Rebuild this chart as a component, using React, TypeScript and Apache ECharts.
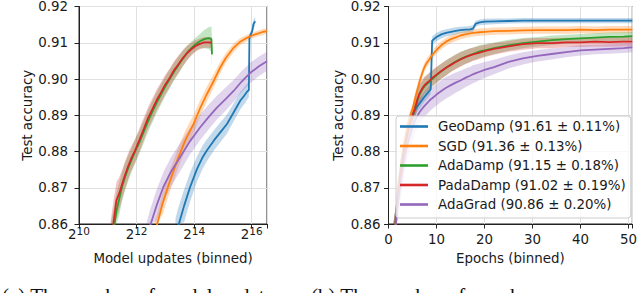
import React, { useEffect, useRef } from 'react';
import * as echarts from 'echarts';

const FONT = 'DejaVu Sans';
const TXT = '#1a1a1a';
const Y_MIN = 0.86;
const Y_MAX = 0.92;

const NAMES = [
  'GeoDamp (91.61 ± 0.11%)',
  'SGD (91.36 ± 0.13%)',
  'AdaDamp (91.15 ± 0.18%)',
  'PadaDamp (91.02 ± 0.19%)',
  'AdaGrad (90.86 ± 0.20%)',
];
const COLORS = ['#1f77b4', '#ff7f0e', '#2ca02c', '#d62728', '#9467bd'];

// ---------- Left panel: log2(model updates) vs accuracy ----------
const geoUpdX = [13.35, 13.45, 13.65, 13.86, 14.1, 14.3, 14.44, 14.7, 14.95, 15.14, 15.35, 15.6, 15.75, 15.85, 15.9, 15.92, 15.97, 16.02, 16.06, 16.12];
const geoUpdY = [0.8565, 0.8595, 0.865, 0.8702, 0.8752, 0.8785, 0.8803, 0.8832, 0.8857, 0.8876, 0.8905, 0.894, 0.8955, 0.8966, 0.8969, 0.9115, 0.9124, 0.9133, 0.9152, 0.9159];
const geoUpdSd = [0.005, 0.005, 0.0045, 0.004, 0.0035, 0.0032, 0.003, 0.0028, 0.0027, 0.0026, 0.0025, 0.0024, 0.0023, 0.0022, 0.002, 0.001, 0.001, 0.001, 0.0012, 0.0012];

const sgdUpdX = [12.6, 12.7, 12.9, 13.1, 13.3, 13.45, 13.7, 13.98, 14.2, 14.44, 14.7, 14.9, 15.1, 15.37, 15.6, 15.8, 15.95, 16.15, 16.35, 16.53];
const sgdUpdY = [0.8565, 0.8595, 0.8655, 0.8705, 0.875, 0.8784, 0.8832, 0.8876, 0.8918, 0.8958, 0.8998, 0.9031, 0.9058, 0.9086, 0.9103, 0.9112, 0.9118, 0.9124, 0.9129, 0.9132];
const sgdUpdSd = [0.003, 0.003, 0.003, 0.003, 0.0029, 0.0028, 0.0027, 0.0025, 0.0023, 0.0021, 0.0019, 0.0016, 0.0014, 0.0012, 0.001, 0.0009, 0.0008, 0.0008, 0.0008, 0.0008];

const dampUpdX = [11.1, 11.2, 11.3, 11.4, 11.5, 11.6, 11.7, 11.8, 11.95, 12.1, 12.25, 12.4, 12.55, 12.7, 12.85, 13.0, 13.15, 13.3, 13.45, 13.6, 13.75, 13.9, 14.05, 14.2, 14.35, 14.5, 14.6, 14.62];
const adaDampUpdY = [0.853, 0.858, 0.8635, 0.867, 0.8705, 0.873, 0.8752, 0.8772, 0.88, 0.8826, 0.8855, 0.8884, 0.891, 0.8935, 0.8958, 0.898, 0.9, 0.902, 0.9038, 0.9055, 0.9072, 0.9085, 0.9096, 0.9104, 0.911, 0.9113, 0.911, 0.9068];
const adaDampUpdSd = [0.006, 0.006, 0.005, 0.0045, 0.004, 0.0038, 0.0036, 0.0034, 0.0033, 0.0032, 0.0031, 0.003, 0.003, 0.0029, 0.0028, 0.0027, 0.0026, 0.0025, 0.0024, 0.0022, 0.002, 0.0018, 0.0018, 0.002, 0.0025, 0.003, 0.0035, 0.004];
const padaDampUpdY = [0.855, 0.8605, 0.8665, 0.8685, 0.871, 0.8735, 0.8758, 0.8778, 0.8803, 0.8832, 0.8862, 0.8893, 0.8917, 0.8942, 0.8963, 0.8985, 0.9003, 0.9024, 0.904, 0.9057, 0.9071, 0.9082, 0.9091, 0.9097, 0.9101, 0.9101, 0.91, 0.9099];
const padaDampUpdSd = [0.006, 0.006, 0.005, 0.0045, 0.004, 0.0038, 0.0036, 0.0034, 0.0033, 0.0032, 0.0031, 0.003, 0.003, 0.0029, 0.0028, 0.0027, 0.0026, 0.0025, 0.0024, 0.0022, 0.002, 0.0018, 0.0016, 0.0015, 0.0015, 0.0015, 0.0015, 0.0015];

const adaGradUpdX = [12.35, 12.47, 12.7, 12.93, 13.2, 13.51, 13.85, 14.21, 14.5, 14.79, 15.1, 15.37, 15.65, 15.95, 16.25, 16.53];
const adaGradUpdY = [0.856, 0.8595, 0.8652, 0.8702, 0.8745, 0.8784, 0.8828, 0.8867, 0.8895, 0.8921, 0.8945, 0.8967, 0.8993, 0.9017, 0.9035, 0.9049];
const adaGradUpdSd = [0.0045, 0.0045, 0.0043, 0.0041, 0.004, 0.0039, 0.0037, 0.0035, 0.0034, 0.0033, 0.0032, 0.003, 0.0029, 0.0028, 0.0027, 0.0026];

// ---------- Right panel: epochs vs accuracy ----------
const epochs = [1, 1.5, 2, 2.5, 3, 3.5, 4, 4.5, 5, 5.5, 6, 6.5, 7, 7.5, 8, 8.5, 8.8, 9.1, 10, 11, 12, 13, 14, 15, 16, 17, 17.6, 18.2, 19, 20, 22, 25, 28, 31, 34, 37, 40, 43, 46, 49, 50.8];
const geoEpY = [0.83, 0.861, 0.869, 0.8745, 0.879, 0.8828, 0.886, 0.8885, 0.8902, 0.8914, 0.8924, 0.8933, 0.8942, 0.8951, 0.8959, 0.8967, 0.8972, 0.9106, 0.9116, 0.9123, 0.9127, 0.913, 0.9133, 0.9135, 0.9136, 0.9137, 0.9139, 0.9153, 0.9156, 0.9158, 0.9159, 0.916, 0.9161, 0.9161, 0.9161, 0.9161, 0.9161, 0.9161, 0.9161, 0.9161, 0.9161];
const geoEpSd = [0.004, 0.0035, 0.003, 0.0028, 0.0025, 0.0022, 0.002, 0.0018, 0.0016, 0.0015, 0.0015, 0.0015, 0.0014, 0.0014, 0.0014, 0.0014, 0.0014, 0.0012, 0.0011, 0.0011, 0.001, 0.001, 0.001, 0.0009, 0.0009, 0.0009, 0.0009, 0.0008, 0.0008, 0.0008, 0.0008, 0.0007, 0.0007, 0.0007, 0.0007, 0.0007, 0.0007, 0.0007, 0.0007, 0.0007, 0.0007];
const sgdEpY = [0.83, 0.861, 0.8695, 0.875, 0.8795, 0.8835, 0.887, 0.8895, 0.8915, 0.8944, 0.897, 0.8994, 0.9015, 0.9033, 0.9045, 0.9054, 0.906, 0.9066, 0.908, 0.9093, 0.9103, 0.911, 0.9115, 0.912, 0.9123, 0.9126, 0.9127, 0.9128, 0.9129, 0.913, 0.9132, 0.9133, 0.9134, 0.9135, 0.9135, 0.9135, 0.9136, 0.9135, 0.9136, 0.9136, 0.9136];
const sgdEpSd = [0.004, 0.0035, 0.003, 0.0028, 0.0025, 0.0022, 0.002, 0.0018, 0.0016, 0.0015, 0.0014, 0.0013, 0.0013, 0.0012, 0.0012, 0.0012, 0.0012, 0.0012, 0.0011, 0.0011, 0.0011, 0.0011, 0.0011, 0.001, 0.001, 0.001, 0.001, 0.001, 0.001, 0.001, 0.001, 0.001, 0.001, 0.001, 0.001, 0.001, 0.001, 0.001, 0.001, 0.001, 0.001];
const adaDampEpY = [0.828, 0.8605, 0.8685, 0.8738, 0.8782, 0.882, 0.8852, 0.8876, 0.8895, 0.8915, 0.894, 0.8958, 0.897, 0.898, 0.8986, 0.8992, 0.8996, 0.9, 0.901, 0.9021, 0.9031, 0.904, 0.9048, 0.9055, 0.9061, 0.9066, 0.9069, 0.9072, 0.9076, 0.9079, 0.9085, 0.9093, 0.9099, 0.9103, 0.9107, 0.911, 0.9112, 0.9114, 0.9116, 0.9117, 0.9118];
const adaDampEpSd = [0.005, 0.0045, 0.004, 0.0038, 0.0035, 0.0032, 0.003, 0.0028, 0.0027, 0.0026, 0.0025, 0.0025, 0.0024, 0.0024, 0.0023, 0.0023, 0.0023, 0.0022, 0.0022, 0.0021, 0.0021, 0.002, 0.002, 0.002, 0.0019, 0.0019, 0.0018, 0.0018, 0.0018, 0.0017, 0.0016, 0.0015, 0.0014, 0.0013, 0.0013, 0.0012, 0.0012, 0.0012, 0.0012, 0.0012, 0.0012];
const padaDampEpY = [0.828, 0.8602, 0.8683, 0.8737, 0.8782, 0.8821, 0.8853, 0.8878, 0.8898, 0.8918, 0.8943, 0.8961, 0.8973, 0.8983, 0.8989, 0.8995, 0.8999, 0.9003, 0.9012, 0.9022, 0.9031, 0.9039, 0.9047, 0.9054, 0.906, 0.9065, 0.9068, 0.907, 0.9073, 0.9077, 0.9083, 0.909, 0.9096, 0.9099, 0.9099, 0.9101, 0.9101, 0.9103, 0.9102, 0.9103, 0.9103];
const padaDampEpSd = [0.005, 0.0045, 0.004, 0.0038, 0.0035, 0.0032, 0.003, 0.0028, 0.0027, 0.0026, 0.0025, 0.0025, 0.0024, 0.0024, 0.0023, 0.0023, 0.0023, 0.0022, 0.0022, 0.0021, 0.0021, 0.002, 0.002, 0.002, 0.0019, 0.0019, 0.0018, 0.0018, 0.0018, 0.0017, 0.0016, 0.0015, 0.0015, 0.0014, 0.0014, 0.0013, 0.0013, 0.0013, 0.0013, 0.0013, 0.0013];
const adaGradEpY = [0.826, 0.8595, 0.866, 0.8712, 0.8755, 0.8792, 0.8822, 0.8846, 0.8866, 0.8884, 0.8898, 0.8909, 0.8918, 0.8926, 0.8933, 0.894, 0.8944, 0.8947, 0.8957, 0.8967, 0.8976, 0.8983, 0.899, 0.8996, 0.9003, 0.9009, 0.9013, 0.9016, 0.902, 0.9025, 0.9033, 0.9047, 0.9057, 0.9064, 0.9069, 0.9074, 0.9079, 0.9081, 0.9083, 0.9085, 0.9087];
const adaGradEpSd = [0.006, 0.0055, 0.005, 0.0048, 0.0045, 0.0042, 0.004, 0.0038, 0.0036, 0.0034, 0.0033, 0.0032, 0.0031, 0.003, 0.003, 0.003, 0.003, 0.003, 0.003, 0.003, 0.003, 0.0029, 0.0028, 0.0027, 0.0026, 0.0025, 0.0025, 0.0024, 0.0023, 0.0022, 0.002, 0.0018, 0.0017, 0.0016, 0.0015, 0.0014, 0.0014, 0.0013, 0.0013, 0.0013, 0.0013];

const leftData = [
  { x: geoUpdX, y: geoUpdY, sd: geoUpdSd },
  { x: sgdUpdX, y: sgdUpdY, sd: sgdUpdSd },
  { x: dampUpdX, y: adaDampUpdY, sd: adaDampUpdSd },
  { x: dampUpdX, y: padaDampUpdY, sd: padaDampUpdSd },
  { x: adaGradUpdX, y: adaGradUpdY, sd: adaGradUpdSd },
];
const rightData = [
  { x: epochs, y: geoEpY, sd: geoEpSd },
  { x: epochs, y: sgdEpY, sd: sgdEpSd },
  { x: epochs, y: adaDampEpY, sd: adaDampEpSd },
  { x: epochs, y: padaDampEpY, sd: padaDampEpSd },
  { x: epochs, y: adaGradEpY, sd: adaGradEpSd },
];

function rgba(hex: string, a: number) {
  const n = parseInt(hex.slice(1), 16);
  return `rgba(${(n >> 16) & 255},${(n >> 8) & 255},${n & 255},${a})`;
}

function bandSeries(d: any, color: string, gi: number, name: string) {
  const mid = Math.floor(d.x.length / 2);
  return {
    type: 'custom',
    name,
    xAxisIndex: gi,
    yAxisIndex: gi,
    silent: true,
    clip: true,
    z: 2,
    data: [[d.x[mid], d.y[mid]]],
    renderItem: (_p: any, api: any) => {
      const c = (v: number) => Math.min(Y_MAX, Math.max(Y_MIN, v));
      const up = d.x.map((x: number, i: number) => api.coord([x, c(d.y[i] + d.sd[i])]));
      const lo = d.x.map((x: number, i: number) => api.coord([x, c(d.y[i] - d.sd[i])])).reverse();
      return {
        type: 'polygon',
        shape: { points: up.concat(lo) },
        style: { fill: rgba(color, 0.28), stroke: 'none' },
      };
    },
  };
}

function lineSeries(d: any, color: string, gi: number, name: string) {
  return {
    type: 'line',
    name,
    xAxisIndex: gi,
    yAxisIndex: gi,
    data: d.x.map((x: number, i: number) => [x, d.y[i]]),
    showSymbol: false,
    symbol: 'none',
    color,
    lineStyle: { width: 1.8, color },
    itemStyle: { color },
    z: 3,
    clip: true,
  };
}

function yAxis(gi: number, margin: number, nameGap: number) {
  return {
    type: 'value',
    gridIndex: gi,
    min: Y_MIN,
    max: Y_MAX,
    interval: 0.01,
    name: 'Test accuracy',
    nameLocation: 'middle',
    nameGap,
    nameTextStyle: { fontFamily: FONT, fontSize: 13.4, color: TXT },
    axisLine: { show: true, lineStyle: { color: '#222', width: 1 } },
    axisTick: { show: true, inside: false, length: 4.5, lineStyle: { color: '#222', width: 1 } },
    axisLabel: {
      fontFamily: FONT,
      fontSize: 13.4,
      color: TXT,
      margin,
      formatter: (v: number) => v.toFixed(2),
    },
    splitLine: { show: true, lineStyle: { color: '#e0e0e0', width: 1 } },
  };
}

export default function App() {
  const ref = useRef<HTMLDivElement>(null);
  useEffect(() => {
    if (!ref.current) return;
    const chart = echarts.init(ref.current, null, { renderer: 'svg' });
    const series: any[] = [];
    for (let i = 0; i < 5; i++) {
      series.push(bandSeries(leftData[i], COLORS[i], 0, 'band-l-' + i));
      series.push(lineSeries(leftData[i], COLORS[i], 0, NAMES[i]));
    }
    for (let i = 0; i < 5; i++) {
      series.push(bandSeries(rightData[i], COLORS[i], 1, 'band-r-' + i));
      series.push(lineSeries(rightData[i], COLORS[i], 1, NAMES[i]));
    }
    chart.setOption({
      animation: false,
      backgroundColor: '#fff',
      grid: [
        { left: 79, top: 5, width: 188, height: 219, show: true, borderColor: '#222', borderWidth: 1, backgroundColor: 'transparent' },
        { left: 388.5, top: 5, width: 247.5, height: 219, show: true, borderColor: '#222', borderWidth: 1, backgroundColor: 'transparent' },
      ],
      xAxis: [
        {
          type: 'value',
          gridIndex: 0,
          min: 10,
          max: 16.53,
          interval: 2,
          name: 'Model updates (binned)',
          nameLocation: 'middle',
          nameGap: 28,
          nameTextStyle: { fontFamily: FONT, fontSize: 13.4, color: TXT },
          axisLine: { show: true, onZero: false, lineStyle: { color: '#222', width: 1 } },
          axisTick: { show: true, inside: false, length: 4.5, lineStyle: { color: '#222', width: 1 } },
          axisLabel: {
            margin: 1,
            color: TXT,
            fontFamily: FONT,
            formatter: (v: number) => {
              const r = Math.round(v);
              if (Math.abs(v - r) > 1e-6 || r % 2 !== 0) return '';
              return `{b|2}{s|${r}}`;
            },
            rich: {
              b: { fontFamily: FONT, fontSize: 13.4, color: TXT, verticalAlign: 'bottom', lineHeight: 16 },
              s: { fontFamily: FONT, fontSize: 10.5, color: TXT, verticalAlign: 'top', lineHeight: 10 },
            },
          },
          splitLine: { show: true, lineStyle: { color: '#e0e0e0', width: 1 } },
        },
        {
          type: 'value',
          gridIndex: 1,
          min: 0,
          max: 50.8,
          interval: 10,
          name: 'Epochs (binned)',
          nameLocation: 'middle',
          nameGap: 28,
          nameTextStyle: { fontFamily: FONT, fontSize: 13.4, color: TXT },
          axisLine: { show: true, onZero: false, lineStyle: { color: '#222', width: 1 } },
          axisTick: { show: true, inside: false, length: 4.5, lineStyle: { color: '#222', width: 1 } },
          axisLabel: {
            margin: 9,
            color: TXT,
            fontFamily: FONT,
            fontSize: 13.4,
            formatter: (v: number) => {
              const r = Math.round(v / 10) * 10;
              return Math.abs(v - r) > 1e-6 ? '' : String(r);
            },
          },
          splitLine: { show: true, lineStyle: { color: '#e0e0e0', width: 1 } },
        },
      ],
      yAxis: [yAxis(0, 11, 43), yAxis(1, 8, 44)],
      legend: {
        data: NAMES.map((n) => ({ name: n, icon: 'rect' })),
        orient: 'vertical',
        left: 396,
        top: 116,
        itemWidth: 28,
        itemHeight: 2.6,
        itemGap: 4.5,
        selectedMode: false,
        textStyle: { fontFamily: FONT, fontSize: 13.4, color: TXT, lineHeight: 15, padding: [0, 0, 0, 5] },
        backgroundColor: 'rgba(255,255,255,0.8)',
        borderColor: '#cccccc',
        borderWidth: 1,
        borderRadius: 3,
        padding: [3, 5, 6, 4],
      },
      graphic: [
        {
          type: 'text',
          x: 2,
          y: 285,
          silent: true,
          style: { text: '(a) The number of model updates', fontFamily: 'Liberation Serif', fontSize: 21, fill: '#111', verticalAlign: 'top' },
        },
        {
          type: 'text',
          x: 311,
          y: 285,
          silent: true,
          style: { text: '(b) The number of epochs', fontFamily: 'Liberation Serif', fontSize: 21, fill: '#111', verticalAlign: 'top' },
        },
      ],
      series,
    });
    return () => chart.dispose();
  }, []);
  return (
    <div
      ref={ref}
      style={{ position: 'absolute', left: 0, top: 0, width: 640, height: 293, overflow: 'hidden', background: '#fff' }}
    />
  );
}
